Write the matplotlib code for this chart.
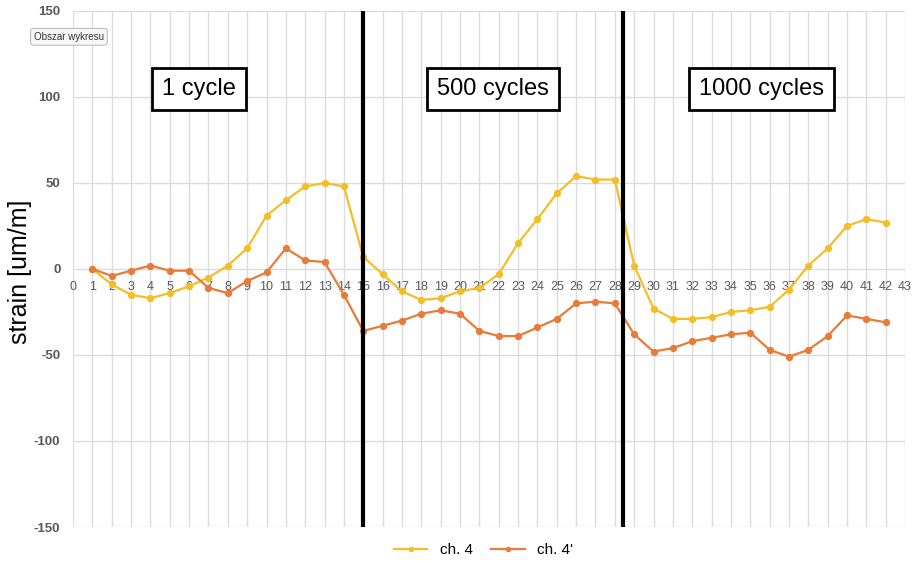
import matplotlib
matplotlib.use("Agg")
import matplotlib.pyplot as plt

# measurement points 1..42
points = list(range(1, 43))

ch4 = [0, -9, -15, -17, -14, -10, -5, 2, 12, 31, 40, 48, 50, 48, 7,
       -3, -13, -18, -17, -13, -11, -3, 15, 29, 44, 54, 52, 52,
       2, -23, -29, -29, -28, -25, -24, -22, -12, 2, 12, 25, 29, 27]
ch4p = [0, -4, -1, 2, -1, -1, -11, -14, -7, -2, 12, 5, 4, -15, -36,
        -33, -30, -26, -24, -26, -36, -39, -39, -34, -29, -20, -19, -20,
        -38, -48, -46, -42, -40, -38, -37, -47, -51, -47, -39, -27, -29, -31]

section_bounds = [15, 28.42]
section_labels = ["1 cycle", "500 cycles", "1000 cycles"]
section_centers = [6.5, 21.7, 35.6]

plt.rcParams['font.family'] = ['Liberation Sans', 'DejaVu Sans']
plt.rcParams['axes.unicode_minus'] = False

fig = plt.figure(figsize=(9.17, 5.66), dpi=100)
ax = fig.add_axes([0.0796, 0.0689, 0.9074, 0.9117])

ax.plot(points, ch4, color="#F4BE26", lw=1.6, marker="o", ms=4.2, label="ch. 4", zorder=3)
ax.plot(points, ch4p, color="#E87B37", lw=1.6, marker="o", ms=4.2, label="ch. 4'", zorder=3)

for xb in section_bounds:
    ax.axvline(xb, color="black", lw=3, zorder=4)

for xc, lab in zip(section_centers, section_labels):
    ax.text(xc, 104.5, lab, fontsize=17, ha="center", va="center", zorder=5,
            bbox=dict(boxstyle="square,pad=0.42", fc="white", ec="black", lw=2))

ax.set_xlim(0, 43)
ax.set_ylim(-150, 150)
ax.set_xticks(range(0, 44))
ax.set_yticks([-150, -100, -50, 0, 50, 100, 150])
ax.set_axisbelow(True)
ax.grid(True, color="#dcdcdc", lw=1)
for s in ax.spines.values():
    s.set_visible(False)
ax.spines['bottom'].set_position(('data', 0))
ax.tick_params(axis="x", length=0, pad=9, labelsize=9, labelcolor="#595959")
ax.tick_params(axis="y", length=0, pad=9, labelsize=9.5, labelcolor="#595959")
for t in ax.get_yticklabels():
    t.set_fontweight("bold")

fig.text(0.022, 0.52, "strain [um/m]", rotation=90, fontsize=18, ha="center", va="center")

fig.text(0.037, 0.935, "Obszar wykresu", fontsize=7, color="#333333", ha="left", va="center",
         bbox=dict(boxstyle="round,pad=0.35", fc="#f7f7f7", ec="#bdbdbd", lw=0.8))

fig.legend(loc="center", bbox_to_anchor=(0.527, 0.028), ncol=2, frameon=False,
           fontsize=11, handlelength=2.2, columnspacing=1.2, markerscale=0.7)

fig.savefig("out.png", dpi=100)
